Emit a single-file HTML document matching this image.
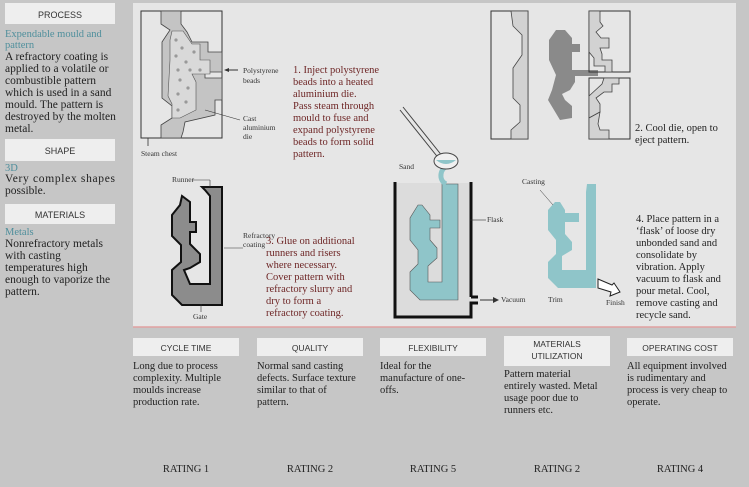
<!DOCTYPE html>
<html><head><style>
body{margin:0;width:749px;height:487px;background:#c9c9c9;overflow:hidden;font-family:"Liberation Serif",serif;}
</style></head><body>
<svg width="749" height="487" xmlns="http://www.w3.org/2000/svg" style="position:absolute;left:0;top:0">
<rect x="0" y="0" width="749" height="487" fill="#c6c6c6"/>
<rect x="133" y="3" width="603" height="324" fill="#e6e6e6"/>
<line x1="133" y1="327" x2="736" y2="327" stroke="#e0a0a0" stroke-width="1.5"/>
<rect x="5" y="3" width="110" height="21" fill="#eeeeee"/>
<rect x="5" y="139" width="110" height="22" fill="#eeeeee"/>
<rect x="5" y="204" width="110" height="20" fill="#eeeeee"/>
<g font-family="Liberation Sans,sans-serif" font-size="9" fill="#333" text-anchor="middle">
<text x="60" y="18">PROCESS</text><text x="60" y="154">SHAPE</text><text x="60" y="218">MATERIALS</text>
</g>
<g font-size="11.5" fill="#222">
<text x="5" y="37" fill="#4f8f9c" font-size="10.5">Expendable mould and</text>
<text x="5" y="48" fill="#4f8f9c" font-size="10.5">pattern</text>
<text x="5" y="60">A refractory coating is</text>
<text x="5" y="72">applied to a volatile or</text>
<text x="5" y="84">combustible pattern</text>
<text x="5" y="96">which is used in a sand</text>
<text x="5" y="108">mould. The pattern is</text>
<text x="5" y="120">destroyed by the molten</text>
<text x="5" y="132">metal.</text>
<text x="5" y="171" fill="#4f8f9c" font-size="10.5">3D</text>
<text x="5" y="182" textLength="110">Very complex shapes</text>
<text x="5" y="194">possible.</text>
<text x="5" y="235" fill="#4f8f9c" font-size="10.5">Metals</text>
<text x="5" y="247">Nonrefractory metals</text>
<text x="5" y="259">with casting</text>
<text x="5" y="271">temperatures high</text>
<text x="5" y="283">enough to vaporize the</text>
<text x="5" y="295">pattern.</text>
</g>
<rect x="141" y="11" width="81" height="127" fill="none" stroke="#333" stroke-width="1"/>
<polygon points="161,11 181,11 181,24 187,32 192,42 208,42 208,52 222,52 222,72 205,72 205,78 222,78 222,100 215,100 215,115 185,122 183,132 181,138 161,138 161,125 172,118 172,106 162,98 162,42 170,30 161,24" fill="#c4c4c4" stroke="#444" stroke-width="0.8"/>
<polygon points="172,31 183,31 192,44 200,44 200,60 210,60 210,74 192,74 196,82 196,110 180,118 172,118 172,104 168,96 170,60 170,40" fill="#d9d9d9" stroke="#555" stroke-width="0.6"/>
<g fill="#999"><circle cx="176" cy="40" r="1.6"/><circle cx="182" cy="48" r="1.6"/><circle cx="176" cy="56" r="1.6"/><circle cx="186" cy="62" r="1.6"/><circle cx="178" cy="70" r="1.6"/><circle cx="190" cy="70" r="1.6"/><circle cx="200" cy="70" r="1.6"/><circle cx="180" cy="80" r="1.6"/><circle cx="188" cy="88" r="1.6"/><circle cx="178" cy="94" r="1.6"/><circle cx="186" cy="102" r="1.6"/><circle cx="178" cy="110" r="1.6"/><circle cx="194" cy="52" r="1.6"/></g>
<line x1="148" y1="138" x2="148" y2="146" stroke="#333" stroke-width="0.8"/>
<line x1="225" y1="70" x2="238" y2="70" stroke="#333"/><polygon points="224,70 229,68 229,72" fill="#333"/>
<line x1="205" y1="110" x2="240" y2="120" stroke="#333" stroke-width="0.6"/>
<g font-size="7.5" fill="#333">
<text x="243" y="73">Polystyrene</text><text x="243" y="83">beads</text>
<text x="243" y="121">Cast</text><text x="243" y="130">aluminium</text><text x="243" y="139">die</text>
<text x="141" y="156">Steam chest</text>
</g>
<g font-size="10.5" fill="#6e2626">
<text x="293" y="73">1. Inject polystyrene</text><text x="293" y="85">beads into a heated</text><text x="293" y="97">aluminium die.</text><text x="293" y="109">Pass steam through</text><text x="293" y="121">mould to fuse and</text><text x="293" y="133">expand polystyrene</text><text x="293" y="145">beads to form solid</text><text x="293" y="157">pattern.</text>
</g>
<rect x="491" y="11" width="37" height="128" fill="none" stroke="#333"/>
<polygon points="511,11 528,11 528,139 511,139 511,130 520,122 520,105 513,98 513,68 522,55 522,35 513,26" fill="#d2d2d2" stroke="#444" stroke-width="0.8"/>
<polygon points="556,30 565,30 572,38 572,44 580,44 580,52 572,52 572,70 598,70 598,76 575,76 575,82 570,90 562,94 565,100 572,106 572,118 560,120 548,100 552,90 556,75 549,60 549,40" fill="#8a8a8a"/>
<rect x="589" y="11" width="41" height="61" fill="none" stroke="#333"/>
<polygon points="589,11 600,11 600,22 603,26 596,32 601,38 609,38 609,48 600,48 602,54 602,60 612,60 612,72 605,72 605,66 594,66 594,58 589,52" fill="#d2d2d2" stroke="#444" stroke-width="0.8"/>
<rect x="589" y="78" width="41" height="61" fill="none" stroke="#333"/>
<polygon points="604,78 619,78 619,84 612,84 612,92 604,92 596,98 600,104 600,112 589,118 589,96 602,84" fill="#d2d2d2" stroke="#444" stroke-width="0.8"/>
<polygon points="589,118 600,112 598,124 600,130 609,130 609,139 589,139" fill="#d2d2d2" stroke="#444" stroke-width="0.8"/>
<g font-size="10.5" fill="#222"><text x="635" y="131">2. Cool die, open to</text><text x="635" y="143">eject pattern.</text></g>
<polygon points="202,187 222,187 222,305 182,305 172,295 172,270 181,262 181,245 172,236 172,215 180,205 182,196 190,202 190,222 196,222 196,232 190,232 190,244 200,254 200,262 190,268 184,270 190,284 210,284 210,196 205,190" fill="#8c8c8c" stroke="#111" stroke-width="2"/>
<line x1="192" y1="180" x2="210" y2="180" stroke="#333" stroke-width="0.6"/><line x1="210" y1="180" x2="210" y2="187" stroke="#333" stroke-width="0.6"/>
<line x1="224" y1="248" x2="243" y2="248" stroke="#333" stroke-width="0.6"/>
<line x1="201" y1="304" x2="201" y2="312" stroke="#333" stroke-width="0.6"/>
<g font-size="7.5" fill="#333"><text x="172" y="182">Runner</text><text x="243" y="238">Refractory</text><text x="243" y="247">coating</text><text x="193" y="319">Gate</text></g>
<g font-size="10.5" fill="#6e2626">
<text x="266" y="244">3. Glue on additional</text><text x="266" y="256">runners and risers</text><text x="266" y="268">where necessary.</text><text x="266" y="280">Cover pattern with</text><text x="266" y="292">refractory slurry and</text><text x="266" y="304">dry to form a</text><text x="266" y="316">refractory coating.</text>
</g>
<rect x="395" y="183" width="75" height="134" fill="#dcdcdc"/>
<path d="M395,182 V317 H471 V303 H478 M471,297 H478 M471,297 V182" fill="none" stroke="#111" stroke-width="3"/>
<polygon points="442,184 458,184 458,300 420,300 410,290 410,272 418,264 418,250 410,240 410,218 418,205 422,205 430,215 430,220 440,220 440,228 430,228 430,240 437,248 437,258 428,266 428,282 442,282" fill="#8fc5c9" stroke="#555" stroke-width="0.6"/>
<path d="M446,184 C438,180 440,168 448,166 L454,164" fill="none" stroke="#8fc5c9" stroke-width="5"/>
<path d="M400,110 L440,160 M403,107 L443,157" stroke="#444" stroke-width="1"/>
<ellipse cx="446" cy="161" rx="12" ry="8" fill="#f0f0f0" stroke="#444"/>
<path d="M436,160 Q446,168 456,160" fill="#8fc5c9"/>
<line x1="480" y1="300" x2="495" y2="300" stroke="#333"/><polygon points="499,300 493,297 493,303" fill="#333"/>
<g font-size="7.5" fill="#333"><text x="399" y="169">Sand</text><text x="487" y="222">Flask</text><text x="501" y="302">Vacuum</text><text x="522" y="184">Casting</text><text x="548" y="302">Trim</text><text x="606" y="305">Finish</text></g>
<line x1="470" y1="220" x2="486" y2="220" stroke="#333" stroke-width="0.6"/>
<polygon points="587,184 596,184 596,288 558,288 548,278 548,262 556,254 556,240 548,230 548,210 555,202 560,202 565,210 565,213 579,213 579,222 565,222 565,234 572,242 572,250 562,256 562,270 586,270 586,192" fill="#8fc5c9"/>
<line x1="540" y1="190" x2="553" y2="205" stroke="#333" stroke-width="0.5"/>
<path d="M598,279 L612,285 L614,283 L620,292 L610,296 L611,292 L598,288 Z" fill="#fff" stroke="#222"/>
<g font-size="10.5" fill="#222">
<text x="636" y="222">4. Place pattern in a</text><text x="636" y="234">‘flask’ of loose dry</text><text x="636" y="246">unbonded sand and</text><text x="636" y="258">consolidate by</text><text x="636" y="270">vibration. Apply</text><text x="636" y="282">vacuum to flask and</text><text x="636" y="294">pour metal. Cool,</text><text x="636" y="306">remove casting and</text><text x="636" y="318">recycle sand.</text>
</g>
<g fill="#eeeeee">
<rect x="133" y="338" width="106" height="18"/><rect x="257" y="338" width="106" height="18"/><rect x="380" y="338" width="106" height="18"/><rect x="504" y="336" width="106" height="30"/><rect x="627" y="338" width="106" height="18"/>
</g>
<g font-family="Liberation Sans,sans-serif" font-size="8.5" fill="#333" text-anchor="middle">
<text x="186" y="351">CYCLE TIME</text><text x="310" y="351">QUALITY</text><text x="433" y="351">FLEXIBILITY</text><text x="557" y="347">MATERIALS</text><text x="557" y="359">UTILIZATION</text><text x="680" y="351">OPERATING COST</text>
</g>
<g font-size="10.5" fill="#222">
<text x="133" y="369">Long due to process</text><text x="133" y="381">complexity. Multiple</text><text x="133" y="393">moulds increase</text><text x="133" y="405">production rate.</text>
<text x="257" y="369">Normal sand casting</text><text x="257" y="381">defects. Surface texture</text><text x="257" y="393">similar to that of</text><text x="257" y="405">pattern.</text>
<text x="380" y="369">Ideal for the</text><text x="380" y="381">manufacture of one-</text><text x="380" y="393">offs.</text>
<text x="504" y="377">Pattern material</text><text x="504" y="389">entirely wasted. Metal</text><text x="504" y="401">usage poor due to</text><text x="504" y="413">runners etc.</text>
<text x="627" y="369">All equipment involved</text><text x="627" y="381">is rudimentary and</text><text x="627" y="393">process is very cheap to</text><text x="627" y="405">operate.</text>
</g>
<g font-size="10.5" fill="#222" text-anchor="middle">
<text x="186" y="472">RATING 1</text><text x="310" y="472">RATING 2</text><text x="433" y="472">RATING 5</text><text x="557" y="472">RATING 2</text><text x="680" y="472">RATING 4</text>
</g>
</svg>
</body></html>
